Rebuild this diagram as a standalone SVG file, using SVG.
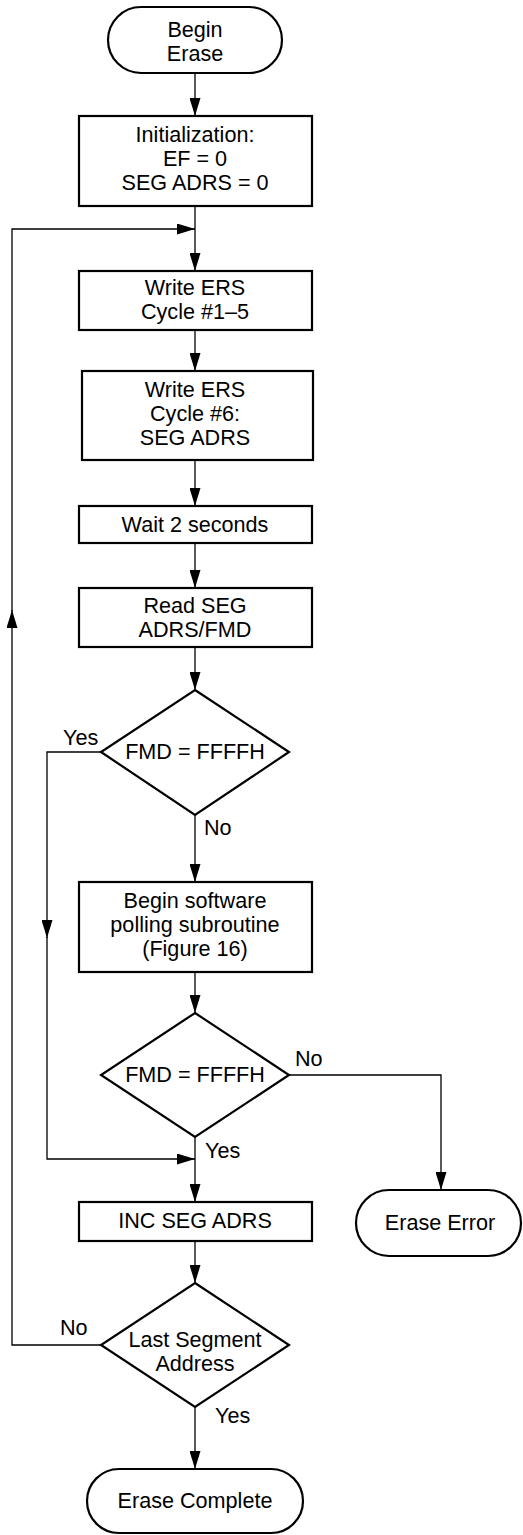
<svg xmlns="http://www.w3.org/2000/svg" width="523" height="1535" viewBox="0 0 523 1535">
<defs>
<marker id="ah" markerUnits="userSpaceOnUse" markerWidth="18" markerHeight="11" refX="18" refY="5.5" orient="auto">
<path d="M0,0 L18,5.5 L0,11 z" fill="#000"/>
</marker>
<style>
.n{fill:#fff;stroke:#000;stroke-width:2.2}
.c{fill:none;stroke:#000;stroke-width:1.3;marker-end:url(#ah)}
text{font-family:"Liberation Sans",Arial,sans-serif;font-size:21.6px;fill:#000;text-anchor:middle}
.l{text-anchor:start}
</style>
</defs>
<rect width="523" height="1535" fill="#fff"/>
<g id="connectors">
<path class="c" d="M195,73 V116"/>
<path class="c" d="M195,206 V271"/>
<path class="c" d="M101,1345 H12 V610"/>
<path class="c" d="M12,611 V229 H195"/>
<path class="c" d="M195,330 V371"/>
<path class="c" d="M195,460 V506"/>
<path class="c" d="M195,543 V588"/>
<path class="c" d="M195,647 V690"/>
<path class="c" d="M195,815 V882"/>
<path class="c" d="M101,752 H47 V938"/>
<path class="c" d="M47,937 V1159 H195"/>
<path class="c" d="M195,972 V1013"/>
<path class="c" d="M195,1137 V1202"/>
<path class="c" d="M289,1075 H441 V1190"/>
<path class="c" d="M195,1241 V1283"/>
<path class="c" d="M195,1407 V1469"/>
<text class="l" x="63" y="745">Yes</text>
<text class="l" x="204" y="835">No</text>
<text class="l" x="295" y="1066">No</text>
<text class="l" x="205" y="1158">Yes</text>
<text class="l" x="60" y="1335">No</text>
<text class="l" x="215" y="1423">Yes</text>
</g>
<g id="begin">
<rect class="n" x="108" y="7" width="174" height="66" rx="33"/>
<text x="195" y="37">Begin</text>
<text x="195" y="61">Erase</text>
</g>
<g id="init">
<rect class="n" x="79" y="116" width="233" height="90"/>
<text x="195" y="142">Initialization:</text>
<text x="195" y="166">EF = 0</text>
<text x="195" y="190">SEG ADRS = 0</text>
</g>
<g id="ers15">
<rect class="n" x="79" y="271" width="233" height="59"/>
<text x="195" y="295">Write ERS</text>
<text x="195" y="319">Cycle #1–5</text>
</g>
<g id="ers6">
<rect class="n" x="82" y="371" width="231" height="89"/>
<text x="195" y="397">Write ERS</text>
<text x="195" y="421">Cycle #6:</text>
<text x="195" y="445">SEG ADRS</text>
</g>
<g id="wait">
<rect class="n" x="79" y="506" width="233" height="37"/>
<text x="195" y="532">Wait 2 seconds</text>
</g>
<g id="read">
<rect class="n" x="79" y="588" width="233" height="59"/>
<text x="195" y="613">Read SEG</text>
<text x="195" y="637">ADRS/FMD</text>
</g>
<g id="dec1">
<polygon class="n" points="195,690 289,752 195,815 101,752"/>
<text x="195" y="759">FMD = FFFFH</text>
</g>
<g id="poll">
<rect class="n" x="79" y="882" width="233" height="90"/>
<text x="195" y="908">Begin software</text>
<text x="195" y="932">polling subroutine</text>
<text x="195" y="956">(Figure 16)</text>
</g>
<g id="dec2">
<polygon class="n" points="195,1013 289,1075 195,1137 101,1075"/>
<text x="195" y="1082">FMD = FFFFH</text>
</g>
<g id="inc">
<rect class="n" x="79" y="1202" width="233" height="39"/>
<text x="195" y="1228">INC SEG ADRS</text>
</g>
<g id="error">
<rect class="n" x="356" y="1190" width="165" height="66" rx="33"/>
<text x="440" y="1230">Erase Error</text>
</g>
<g id="dec3">
<polygon class="n" points="195,1283 289,1345 195,1407 101,1345"/>
<text x="195" y="1347">Last Segment</text>
<text x="195" y="1371">Address</text>
</g>
<g id="complete">
<rect class="n" x="87" y="1469" width="216" height="64" rx="32"/>
<text x="195" y="1508">Erase Complete</text>
</g>
</svg>
